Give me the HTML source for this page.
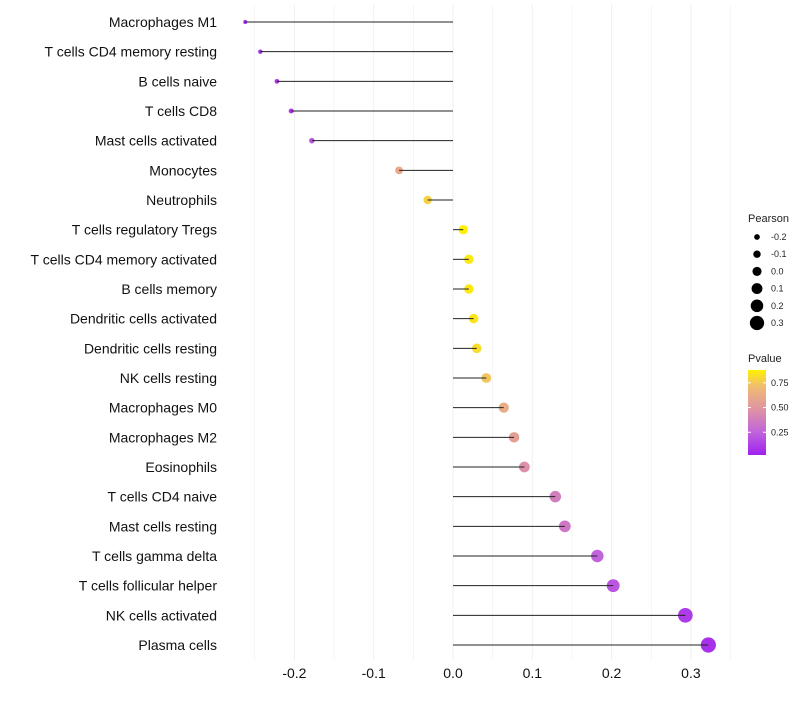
<!DOCTYPE html>
<html><head><meta charset="utf-8"><style>
body{margin:0;background:#fff;font-family:"Liberation Sans",sans-serif}
svg text{font-family:"Liberation Sans",sans-serif}
</style></head><body>
<svg id="chart" width="800" height="700"></svg>
<script>
const categories=["Macrophages M1","T cells CD4 memory resting","B cells naive","T cells CD8","Mast cells activated","Monocytes","Neutrophils","T cells regulatory  Tregs ","T cells CD4 memory activated","B cells memory","Dendritic cells activated","Dendritic cells resting","NK cells resting","Macrophages M0","Macrophages M2","Eosinophils","T cells CD4 naive","Mast cells resting","T cells gamma delta","T cells follicular helper","NK cells activated","Plasma cells"];
const pearson=[-0.262,-0.243,-0.222,-0.204,-0.178,-0.068,-0.032,0.013,0.020,0.020,0.026,0.030,0.042,0.064,0.077,0.090,0.129,0.141,0.182,0.202,0.293,0.322];
const pvalue=[0.03,0.05,0.08,0.1,0.2,0.6,0.8,0.93,0.9,0.9,0.88,0.85,0.75,0.62,0.55,0.47,0.38,0.35,0.25,0.2,0.1,0.06];
const xTicks=[-0.2,-0.1,0.0,0.1,0.2,0.3];
const xTickLabels=["-0.2","-0.1","0.0","0.1","0.2","0.3"];
const sizeLegend=[-0.2,-0.1,0.0,0.1,0.2,0.3];
const pLegend=[0.25,0.5,0.75];

const NS="http://www.w3.org/2000/svg";
const svg=document.getElementById('chart');
function el(t,a,p){const e=document.createElementNS(NS,t);for(const k in a)e.setAttribute(k,a[k]);(p||svg).appendChild(e);return e;}
const xS=v=>453+v*793;
const yS=i=>22+i*(623/21);
const rS=v=>2+(v+0.262)/0.584*5.6;
const stops=[[0,[160,32,240]],[0.25,[192,100,220]],[0.5,[225,150,160]],[0.72,[240,190,110]],[0.93,[255,240,0]]];
function col(p){for(let i=1;i<stops.length;i++){if(p<=stops[i][0]||i==stops.length-1){const a=stops[i-1],b=stops[i];let t=(p-a[0])/(b[0]-a[0]);t=Math.max(0,Math.min(1,t));return 'rgb('+a[1].map((c,k)=>Math.round(c+(b[1][k]-c)*t)).join(',')+')';}}}
for(let v=-0.25;v<=0.36;v+=0.05){const g=el('line',{x1:xS(v),x2:xS(v),y1:5,y2:660,stroke:'#efefef','stroke-width':Math.abs(Math.round(v*100))%10==0?1:0.6});

}
xTicks.forEach((v,i)=>{const t=el('text',{x:xS(v),y:678,'text-anchor':'middle','font-size':14,fill:'#111'});t.textContent=xTickLabels[i];

});
categories.forEach((c,i)=>{const y=yS(i);
const t=el('text',{x:217,y:y+5,'text-anchor':'end','font-size':14,fill:'#111'});t.textContent=c;


const d=el('circle',{cx:xS(pearson[i]),cy:y,r:rS(pearson[i]),fill:col(pvalue[i])});


const l=el('line',{x1:xS(0),x2:xS(pearson[i]),y1:y,y2:y,stroke:'#222','stroke-width':1});


});
let t=el('text',{x:748,y:222,'font-size':11,fill:'#222'});t.textContent='Pearson';


sizeLegend.forEach((v,i)=>{const y=237+i*17.2;
const c=el('circle',{cx:757,cy:y,r:rS(v)*0.9+0.5,fill:'#000'});


const tt=el('text',{x:771,y:y+3,'font-size':9,fill:'#222'});tt.textContent=v.toFixed(1);

});
t=el('text',{x:748,y:362,'font-size':11,fill:'#222'});t.textContent='Pvalue';


const defs=el('defs',{});const lg=el('linearGradient',{id:'pg',x1:0,y1:1,x2:0,y2:0},defs);
stops.forEach(s=>el('stop',{offset:(s[0]-0.02)/0.86,'stop-color':col(s[0])},lg));
const bar=el('rect',{x:748,y:370,width:18,height:85,fill:'url(#pg)'});


pLegend.forEach(p=>{const y=455-(p-0.02)/0.86*85;
el('line',{x1:748,x2:751,y1:y,y2:y,stroke:'#fff'});el('line',{x1:763,x2:766,y1:y,y2:y,stroke:'#fff'});
const tt=el('text',{x:771,y:y+3,'font-size':9,fill:'#222'});tt.textContent=p.toFixed(2);

});
</script>
</body></html>
